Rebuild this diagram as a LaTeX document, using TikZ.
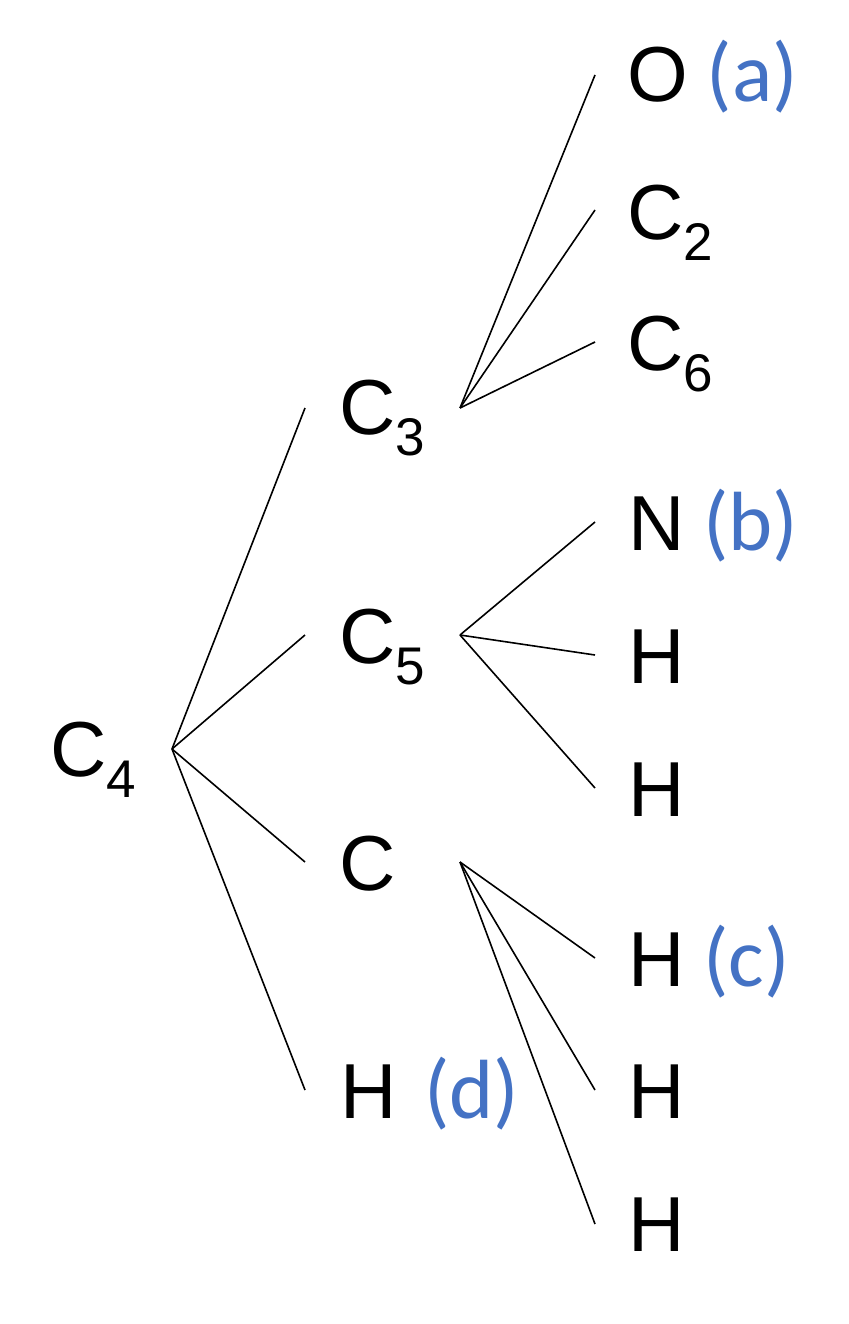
\documentclass[tikz,border=0pt]{standalone}
\usepackage{fontspec}
\setmainfont{Liberation Sans}
\newfontfamily\lblfont{Carlito}
\definecolor{lblblue}{HTML}{4472C4}
\newcommand{\atom}[2]{#1\raisebox{-21pt}{\fontsize{53}{60}\selectfont #2}}
\newcommand{\lbl}[2][19pt]{\hspace{#1}{\lblfont\fontsize{84}{96}\selectfont\color{lblblue}#2}}
\begin{document}
\begin{tikzpicture}[x=1pt,y=-1pt,
  txt/.style={anchor=base west,inner sep=0pt,outer sep=0pt,font=\fontsize{78}{94}\selectfont},
  bond/.style={line width=1.6pt,black}]
\useasboundingbox (0,0) rectangle (848,1324);
% texts
\node[txt] (c4) at (50,776) {\atom{C}{4}};
\node[txt] (c3) at (339,434) {\atom{C}{3}};
\node[txt] (c5) at (339,663) {\atom{C}{5}};
\node[txt] (c) at (339,890) {C};
\node[txt] (hd) at (340,1118) {H\lbl[28pt]{(d)}};
\node[txt] (o) at (627,102) {O\lbl{(a)}};
\node[txt] (c2) at (627,240) {\atom{C}{2}};
\node[txt] (c6) at (627,370) {\atom{C}{6}};
\node[txt] (n) at (628,550) {N\lbl{(b)}};
\node[txt] (h1) at (628,683) {H};
\node[txt] (h2) at (628,816) {H};
\node[txt] (hc) at (628,986) {H\lbl{(c)}};
\node[txt] (h3) at (628,1118) {H};
\node[txt] (h4) at (628,1251) {H};
% connector ends
\coordinate (c4r) at (172,749);
\coordinate (c3l) at (305,408);
\coordinate (c5l) at (305,635);
\coordinate (cl) at (305,862);
\coordinate (hdl) at (305,1090);
\coordinate (c3r) at (460,408);
\coordinate (c5r) at (460,635);
\coordinate (cr) at (460,862);
\coordinate (ol) at (595,75);
\coordinate (c2l) at (595,210);
\coordinate (c6l) at (595,342);
\coordinate (nl) at (595,522);
\coordinate (h1l) at (595,655);
\coordinate (h2l) at (595,788);
\coordinate (hcl) at (595,958);
\coordinate (h3l) at (595,1090);
\coordinate (h4l) at (595,1224);
% bonds
\foreach \t in {c3l,c5l,cl,hdl} \draw[bond] (c4r) -- (\t);
\foreach \t in {ol,c2l,c6l} \draw[bond] (c3r) -- (\t);
\foreach \t in {nl,h1l,h2l} \draw[bond] (c5r) -- (\t);
\foreach \t in {hcl,h3l,h4l} \draw[bond] (cr) -- (\t);
\end{tikzpicture}
\end{document}
